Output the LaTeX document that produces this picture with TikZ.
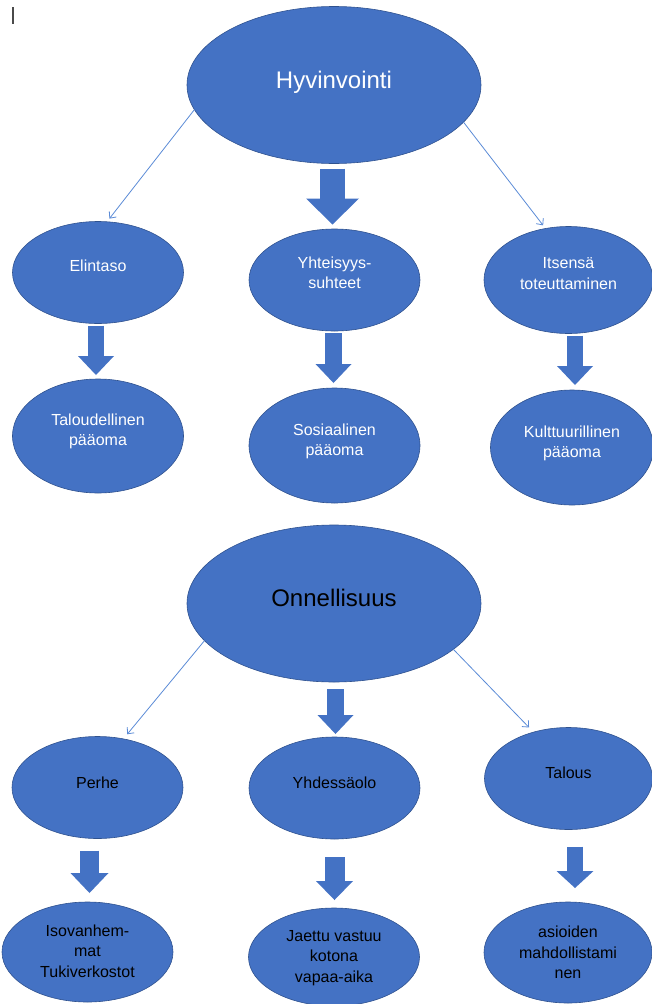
\documentclass[tikz,border=0pt]{standalone}
\usepackage{fontspec}
\setmainfont{Liberation Sans}
\usetikzlibrary{arrows.meta,shapes.geometric,calc}
\definecolor{fillblue}{HTML}{4472C4}
\definecolor{edgeblue}{HTML}{2F528F}
\definecolor{lineblue}{HTML}{5B8BD6}
\definecolor{cursorgray}{HTML}{4A4A4A}
% text lines of a bubble, raised by #1
\newcommand{\bubtext}[2]{\raisebox{#1}[0pt][0pt]{\begin{tabular}{@{}c@{}}#2\end{tabular}}}

\begin{document}
\begin{tikzpicture}[x=1pt, y=-1pt,
    bubble/.style={ellipse, draw=edgeblue, line width=0.6pt, fill=fillblue, inner sep=0pt, outer sep=0pt,
      font=\fontsize{16}{20.5}\selectfont, minimum width=171pt, minimum height=102pt},
    bigbubble/.style={bubble, font=\fontsize{24}{28}\selectfont, minimum width=294pt, minimum height=157pt},
    whitetext/.style={text=white},
    blacktext/.style={text=black},
    link/.style={draw=lineblue, line width=0.8pt, -{Straight Barb[length=5pt,width=9pt]}},
    blk/.style={draw=fillblue, line width=17pt, -{Triangle[width=36pt,length=19pt,line width=0pt]}}]
   \useasboundingbox (0,0) rectangle (652,1004);
   \draw[cursorgray, line width=2pt] (13,7) -- (13,24);

   %hyvinvointi
   \node[bigbubble, whitetext] (hyv) at (334,85) {\bubtext{-4pt}{Hyvinvointi}};
   \node[bubble, whitetext] (elin) at (98,272.5) {\bubtext{1pt}{Elintaso}};
   \node[bubble, whitetext] (yht) at (334.5,280) {\bubtext{1.5pt}{Yhteisyys-\\suhteet}};
   \node[bubble, whitetext, minimum width=169pt, minimum height=107pt] (its) at (568.5,280) {\bubtext{1pt}{Itsensä\\toteuttaminen}};
   \node[bubble, whitetext, minimum height=114pt] (tal) at (98,436) {\bubtext{0.5pt}{Taloudellinen\\pääoma}};
   \node[bubble, whitetext, minimum height=115pt] (sos) at (334.5,445.5) {\bubtext{0pt}{Sosiaalinen\\pääoma}};
   \node[bubble, whitetext, minimum width=163pt, minimum height=115pt] (kult) at (572,447.5) {\bubtext{0pt}{Kulttuurillinen\\pääoma}};

   %onnellisuus
   \node[bigbubble, blacktext] (onn) at (334,603.5) {\bubtext{-4pt}{Onnellisuus}};
   \node[bubble, blacktext] (perhe) at (97.5,787.5) {\bubtext{-1pt}{Perhe}};
   \node[bubble, blacktext] (yhd) at (334.5,788) {\bubtext{-0.5pt}{Yhdessäolo}};
   \node[bubble, blacktext, minimum width=168pt] (talous) at (568.5,778.5) {\bubtext{0pt}{Talous}};
   \node[bubble, blacktext, minimum height=100pt] (iso) at (87.5,952) {\bubtext{-5pt}{Isovanhem-\\mat\\Tukiverkostot}};
   \node[bubble, blacktext, minimum height=98pt] (jaettu) at (334,957) {\bubtext{-5pt}{Jaettu vastuu\\kotona\\vapaa-aika}};
   \node[bubble, blacktext, minimum width=168pt, minimum height=101pt] (asio) at (568,952.5) {\bubtext{-6pt}{asioiden\\mahdollistami\\nen}};

  \path
    %hyvinvointi
    (hyv.190) edge[link, shorten >=4pt] (elin.80.6)
    (hyv.344.5) edge[link, shorten >=4pt] (its.114)
    ([xshift=-1.5pt]hyv.south) edge[blk, line width=25pt, -{Triangle[width=53pt,length=26pt,line width=0pt]},
                     shorten <=5pt, shorten >=4.5pt] ([xshift=-1.5pt]hyv.south |- yht.north)
    ([xshift=-2pt]elin.south) edge[blk, line width=16pt, shorten <=2pt, shorten >=4pt] ([xshift=-2pt]elin.south |- tal.north)
    ([xshift=-1pt]yht.south) edge[blk, shorten <=2pt, shorten >=5pt] ([xshift=-1pt]yht.south |- sos.north)
    ([xshift=6.5pt]its.south) edge[blk, line width=16pt, shorten <=2pt, shorten >=5pt] ([xshift=6.5pt]its.south |- kult.north)

    %onnellisuus
    (onn.196) edge[link, shorten >=6pt] (perhe.62.8)
    (onn.339) edge[link, shorten >=6.5pt] (talous.127)
    ([xshift=1.5pt]onn.south) edge[blk, shorten <=7pt, shorten >=3pt] ([xshift=1.5pt]onn.south |- yhd.north)
    ([xshift=-8pt]perhe.south) edge[blk, line width=19pt, -{Triangle[width=38pt,length=20pt,line width=0pt]},
                                    shorten <=12pt, shorten >=9pt] ([xshift=-8pt]perhe.south |- iso.north)
    (yhd.south) edge[blk, line width=20pt, -{Triangle[width=37pt,length=19pt,line width=0pt]},
                     shorten <=18pt, shorten >=8pt] (yhd.south |- jaettu.north)
    ([xshift=6.5pt]talous.south) edge[blk, line width=16pt, -{Triangle[width=37pt,length=17pt,line width=0pt]},
                                    shorten <=17pt, shorten >=14pt] ([xshift=6.5pt]talous.south |- asio.north);
\end{tikzpicture}
\end{document}
